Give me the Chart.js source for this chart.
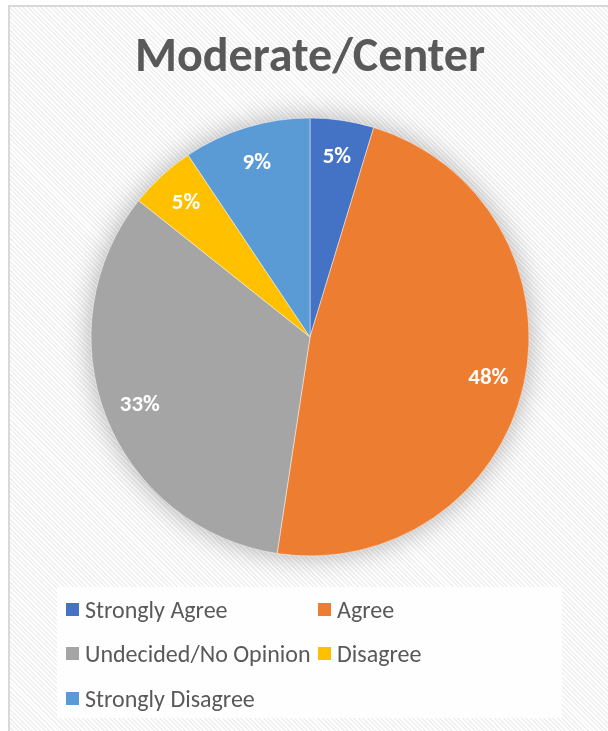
<!DOCTYPE html>
<html>
<head>
<meta charset="utf-8">
<script src="https://cdn.jsdelivr.net/npm/chart.js@4"></script>
<style>
  html, body { margin: 0; padding: 0; background: #ffffff; width: 608px; height: 731px; overflow: hidden; }
  #frame {
    position: absolute; left: 8px; top: 5px; width: 640px; height: 760px;
    border-left: 2px solid #d9d9d9; border-top: 2px solid #d9d9d9;
    background: repeating-linear-gradient(45deg, #ffffff 0px, #ffffff 1.8px, #efefef 1.8px, #efefef 3.2px);
  }
  #wrap { position: absolute; left: 0; top: 0; width: 608px; height: 731px; }
  #legendBox {
    position: absolute; left: 57px; top: 587px; width: 505px; height: 131px;
    background: rgba(255,255,255,0.85);
  }
  #legend {
    position: absolute; left: 9px; top: 0px;
    display: grid; grid-template-columns: 252px 200px; grid-auto-rows: 44.5px;
    font-family: Carlito, Lato, "Open Sans", sans-serif; font-size: 24px; color: #595959;
  }
  .item { display: flex; align-items: center; white-space: nowrap; height: 44.5px; }
  .sw { width: 13px; height: 13px; margin-right: 6px; flex: none; }
</style>
</head>
<body>
<div id="frame"></div>
<div id="wrap"><canvas id="c" width="608" height="731"></canvas></div>
<div id="legendBox"><div id="legend"></div></div>
<script>
const chartTitle = 'Moderate/Center';
const categories = ['Strongly Agree', 'Agree', 'Undecided/No Opinion', 'Disagree', 'Strongly Disagree'];
const percentValues = [4.7, 47.7, 33.3, 4.9, 9.4];
const sliceColors = ['#4472C4', '#ED7D31', '#A5A5A5', '#FFC000', '#5B9BD5'];

const shadowPlugin = {
  id: 'pieShadow',
  beforeDatasetsDraw(chart) {
    const meta = chart.getDatasetMeta(0);
    if (!meta.data.length) return;
    const a = meta.data[0];
    const ctx = chart.ctx;
    ctx.save();
    ctx.shadowColor = 'rgba(0,0,0,0.32)';
    ctx.shadowBlur = 28;
    ctx.shadowOffsetX = 0;
    ctx.shadowOffsetY = 0;
    ctx.fillStyle = '#dddddd';
    ctx.beginPath();
    ctx.arc(a.x, a.y, a.outerRadius - 1, 0, Math.PI * 2);
    ctx.fill();
    ctx.restore();
  }
};

const labelPlugin = {
  id: 'sliceLabels',
  afterDatasetsDraw(chart) {
    const ctx = chart.ctx;
    const meta = chart.getDatasetMeta(0);
    const data = chart.data.datasets[0].data;
    ctx.save();
    ctx.fillStyle = '#ffffff';
    ctx.font = 'bold 23px Carlito, Lato, "Open Sans", sans-serif';
    ctx.textAlign = 'center';
    ctx.textBaseline = 'middle';
    meta.data.forEach((arc, i) => {
      const p = arc.getProps(['x', 'y', 'startAngle', 'endAngle', 'outerRadius'], true);
      const mid = (p.startAngle + p.endAngle) / 2;
      const r = p.outerRadius * 0.835;
      ctx.fillText(Math.round(data[i]) + '%', p.x + Math.cos(mid) * r, p.y + Math.sin(mid) * r + 1);
    });
    ctx.restore();
  }
};

const chart = new Chart(document.getElementById('c'), {
  type: 'pie',
  data: {
    labels: categories,
    datasets: [{
      data: percentValues,
      backgroundColor: sliceColors,
      borderColor: 'rgba(255,255,255,0.45)',
      borderWidth: 1
    }]
  },
  options: {
    responsive: false,
    animation: false,
    layout: { padding: { left: 90, right: 78, top: 0, bottom: 174.5 } },
    plugins: {
      legend: { display: false },
      tooltip: { enabled: false },
      title: {
        display: true,
        text: chartTitle,
        color: '#595959',
        font: { family: 'Carlito, Lato, "Open Sans", sans-serif', size: 48, weight: 'bold', lineHeight: 1.2 },
        padding: { top: 30, bottom: 29.9 }
      }
    }
  },
  plugins: [shadowPlugin, labelPlugin]
});

const legendEl = document.getElementById('legend');
const items = chart.options.plugins.legend.labels.generateLabels(chart);
items.forEach(it => {
  const d = document.createElement('div');
  d.className = 'item';
  const s = document.createElement('span');
  s.className = 'sw';
  s.style.background = it.fillStyle;
  const t = document.createElement('span');
  t.textContent = it.text;
  d.appendChild(s); d.appendChild(t);
  legendEl.appendChild(d);
});
</script>
</body>
</html>
